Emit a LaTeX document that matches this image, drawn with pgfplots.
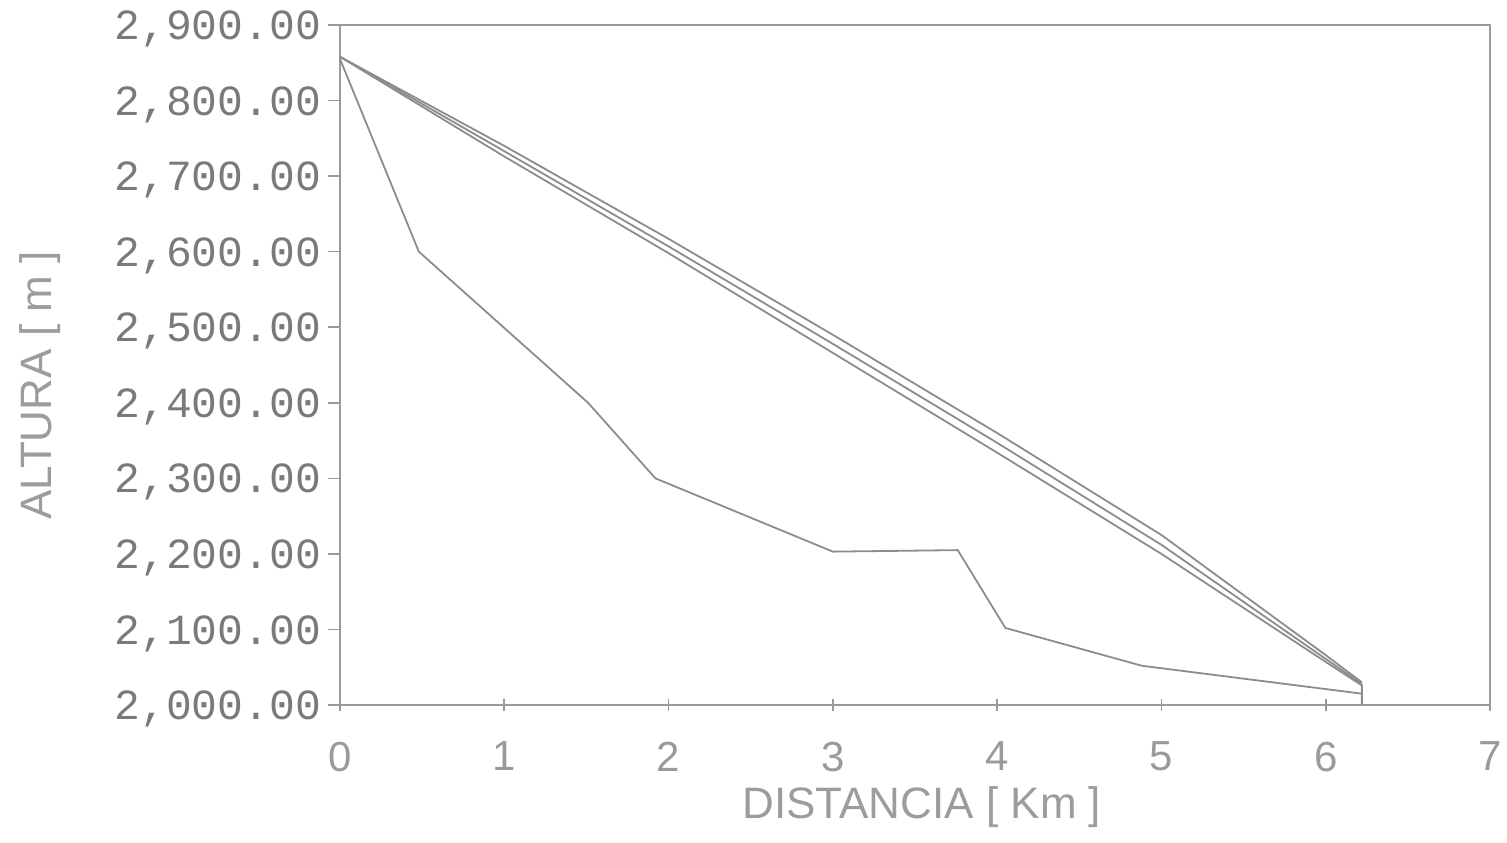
\documentclass[border=0pt]{standalone}
\usepackage{pgfplots}
\pgfplotsset{compat=1.18}
\usepackage{fontspec}
\setmainfont{Liberation Sans}
\newfontfamily\monofont{Liberation Mono}
\definecolor{axgray}{HTML}{9A9A9A}
\definecolor{linegray}{HTML}{8C8C8C}
\definecolor{ytick}{HTML}{7A7A7A}
\definecolor{xtick}{HTML}{9A9A9A}
\definecolor{labgray}{HTML}{9C9C9C}
\begin{document}
\begin{tikzpicture}
\useasboundingbox (-170pt,-68.5pt) rectangle (583.5pt,352.5pt);
\begin{axis}[
  scale only axis,
  width=575pt, height=340pt,
  xmin=0, xmax=7, ymin=2000, ymax=2900,
  xtick={0,1,2,3,4,5,6,7},
  ytick={2000,2100,2200,2300,2400,2500,2600,2700,2800,2900},
  axis line style={axgray, line width=0.8pt},
  tick style={axgray, line width=0.8pt},
  major tick length=6pt,
  xtick align=center,
  ytick align=outside,
  xtick pos=bottom, ytick pos=left,
  /pgf/number format/assume math mode=true,
  yticklabel style={font=\monofont\fontsize{21.5}{24}\selectfont, text=ytick, yshift=-2pt,
    /pgf/number format/.cd, fixed, fixed zerofill, precision=2, 1000 sep={,}},
  xticklabel style={font=\fontsize{21}{24}\selectfont, text=xtick, yshift=-12pt},
  xlabel={DISTANCIA [ Km ]},
  ylabel={ALTURA [ m ]},
  every axis x label/.style={at={(axis description cs:0.506,-0.15)}, anchor=center,
    font=\fontsize{22}{26}\selectfont, text=labgray},
  every axis y label/.style={at={(axis description cs:-0.261,0.47)}, anchor=center, rotate=90,
    font=\fontsize{22}{26}\selectfont, text=labgray},
  clip=false,
]
% upper three nearly straight profiles
\addplot[linegray, line width=0.9pt] coordinates {
  (0,2858) (1,2740) (2,2617) (3,2490) (4,2360) (5,2225) (6,2066) (6.22,2030)
};
\addplot[linegray, line width=0.9pt] coordinates {
  (0,2858) (1,2733) (2,2607) (3,2478) (4,2347) (5,2212) (6,2061) (6.22,2028)
};
\addplot[linegray, line width=0.9pt] coordinates {
  (0,2858) (1,2726) (2,2598) (3,2466) (4,2334) (5,2200) (6,2057) (6.22,2026) (6.22,2000)
};
% lower terrain profile
\addplot[linegray, line width=0.9pt] coordinates {
  (0,2855) (0.48,2600) (1.51,2400) (1.92,2300) (3.0,2203) (3.76,2205)
  (4.05,2102) (4.88,2052) (6.22,2015)
};
\end{axis}
\end{tikzpicture}
\end{document}
